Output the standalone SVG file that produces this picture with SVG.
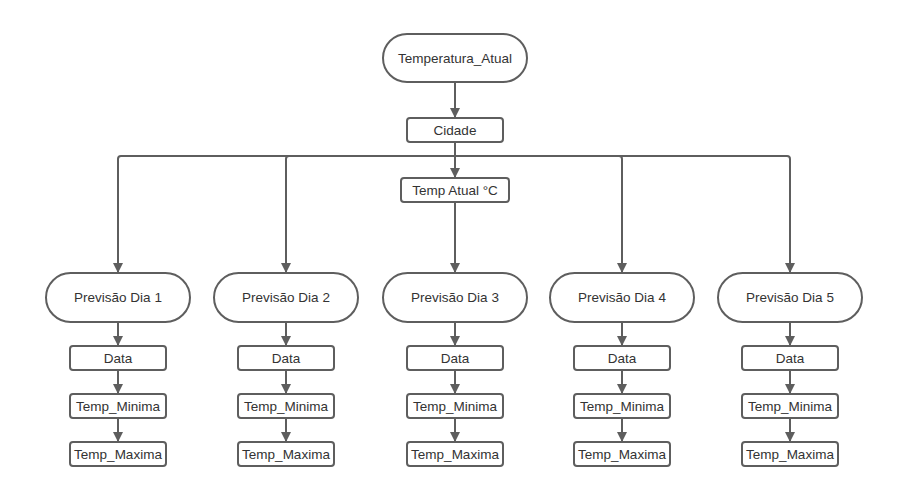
<svg xmlns="http://www.w3.org/2000/svg" width="907" height="502" viewBox="0 0 907 502">
<style>
.n{fill:#fff;stroke:#5e5e5e;stroke-width:2}
.t{font-family:"Liberation Sans",Arial,sans-serif;font-size:13.5px;fill:#333;text-anchor:middle;dominant-baseline:central}
.c{fill:none;stroke:#5e5e5e;stroke-width:2}
</style>
<defs>
<marker id="a" viewBox="0 0 10 10" refX="10" refY="5" markerWidth="5" markerHeight="5" orient="auto" markerUnits="strokeWidth">
<path d="M0,0 L10,5 L0,10 Z" fill="#5e5e5e"/>
</marker>
</defs>
<rect width="907" height="502" fill="#fff"/>
<g id="connectors">
<path class="c" d="M455,82 V118" marker-end="url(#a)"/>
<path class="c" d="M455,142 V178" marker-end="url(#a)"/>
<path class="c" d="M455,202 V273" marker-end="url(#a)"/>
<path class="c" d="M455,156 H121 Q118,156 118,159 V273" marker-end="url(#a)"/>
<path class="c" d="M455,156 H289 Q286,156 286,159 V273" marker-end="url(#a)"/>
<path class="c" d="M455,156 H619 Q622,156 622,159 V273" marker-end="url(#a)"/>
<path class="c" d="M455,156 H787 Q790,156 790,159 V273" marker-end="url(#a)"/>
<path class="c" d="M118,322 V346" marker-end="url(#a)"/><path class="c" d="M118,370 V394" marker-end="url(#a)"/><path class="c" d="M118,418 V442" marker-end="url(#a)"/>
<path class="c" d="M286,322 V346" marker-end="url(#a)"/><path class="c" d="M286,370 V394" marker-end="url(#a)"/><path class="c" d="M286,418 V442" marker-end="url(#a)"/>
<path class="c" d="M455,322 V346" marker-end="url(#a)"/><path class="c" d="M455,370 V394" marker-end="url(#a)"/><path class="c" d="M455,418 V442" marker-end="url(#a)"/>
<path class="c" d="M622,322 V346" marker-end="url(#a)"/><path class="c" d="M622,370 V394" marker-end="url(#a)"/><path class="c" d="M622,418 V442" marker-end="url(#a)"/>
<path class="c" d="M790,322 V346" marker-end="url(#a)"/><path class="c" d="M790,370 V394" marker-end="url(#a)"/><path class="c" d="M790,418 V442" marker-end="url(#a)"/>
</g>
<g id="temperatura_atual"><rect class="n" x="383" y="34" width="144" height="48" rx="24"/><text class="t" x="455" y="58">Temperatura_Atual</text></g>
<g id="cidade"><rect class="n" x="407" y="118" width="96" height="24" rx="3"/><text class="t" x="455" y="130">Cidade</text></g>
<g id="temp_atual"><rect class="n" x="401" y="178" width="108" height="24" rx="3"/><text class="t" x="455" y="190">Temp Atual °C</text></g>

<g id="previsao1"><rect class="n" x="46" y="273" width="144" height="49" rx="24.5"/><text class="t" x="118" y="297.5">Previsão Dia 1</text></g>
<g id="data1"><rect class="n" x="70" y="346" width="96" height="24" rx="3"/><text class="t" x="118" y="358">Data</text></g>
<g id="min1"><rect class="n" x="70" y="394" width="96" height="24" rx="3"/><text class="t" x="118" y="406">Temp_Minima</text></g>
<g id="max1"><rect class="n" x="70" y="442" width="96" height="24" rx="3"/><text class="t" x="118" y="454">Temp_Maxima</text></g>

<g id="previsao2"><rect class="n" x="214" y="273" width="144" height="49" rx="24.5"/><text class="t" x="286" y="297.5">Previsão Dia 2</text></g>
<g id="data2"><rect class="n" x="238" y="346" width="96" height="24" rx="3"/><text class="t" x="286" y="358">Data</text></g>
<g id="min2"><rect class="n" x="238" y="394" width="96" height="24" rx="3"/><text class="t" x="286" y="406">Temp_Minima</text></g>
<g id="max2"><rect class="n" x="238" y="442" width="96" height="24" rx="3"/><text class="t" x="286" y="454">Temp_Maxima</text></g>

<g id="previsao3"><rect class="n" x="383" y="273" width="144" height="49" rx="24.5"/><text class="t" x="455" y="297.5">Previsão Dia 3</text></g>
<g id="data3"><rect class="n" x="407" y="346" width="96" height="24" rx="3"/><text class="t" x="455" y="358">Data</text></g>
<g id="min3"><rect class="n" x="407" y="394" width="96" height="24" rx="3"/><text class="t" x="455" y="406">Temp_Minima</text></g>
<g id="max3"><rect class="n" x="407" y="442" width="96" height="24" rx="3"/><text class="t" x="455" y="454">Temp_Maxima</text></g>

<g id="previsao4"><rect class="n" x="550" y="273" width="144" height="49" rx="24.5"/><text class="t" x="622" y="297.5">Previsão Dia 4</text></g>
<g id="data4"><rect class="n" x="574" y="346" width="96" height="24" rx="3"/><text class="t" x="622" y="358">Data</text></g>
<g id="min4"><rect class="n" x="574" y="394" width="96" height="24" rx="3"/><text class="t" x="622" y="406">Temp_Minima</text></g>
<g id="max4"><rect class="n" x="574" y="442" width="96" height="24" rx="3"/><text class="t" x="622" y="454">Temp_Maxima</text></g>

<g id="previsao5"><rect class="n" x="718" y="273" width="144" height="49" rx="24.5"/><text class="t" x="790" y="297.5">Previsão Dia 5</text></g>
<g id="data5"><rect class="n" x="742" y="346" width="96" height="24" rx="3"/><text class="t" x="790" y="358">Data</text></g>
<g id="min5"><rect class="n" x="742" y="394" width="96" height="24" rx="3"/><text class="t" x="790" y="406">Temp_Minima</text></g>
<g id="max5"><rect class="n" x="742" y="442" width="96" height="24" rx="3"/><text class="t" x="790" y="454">Temp_Maxima</text></g>
</svg>
